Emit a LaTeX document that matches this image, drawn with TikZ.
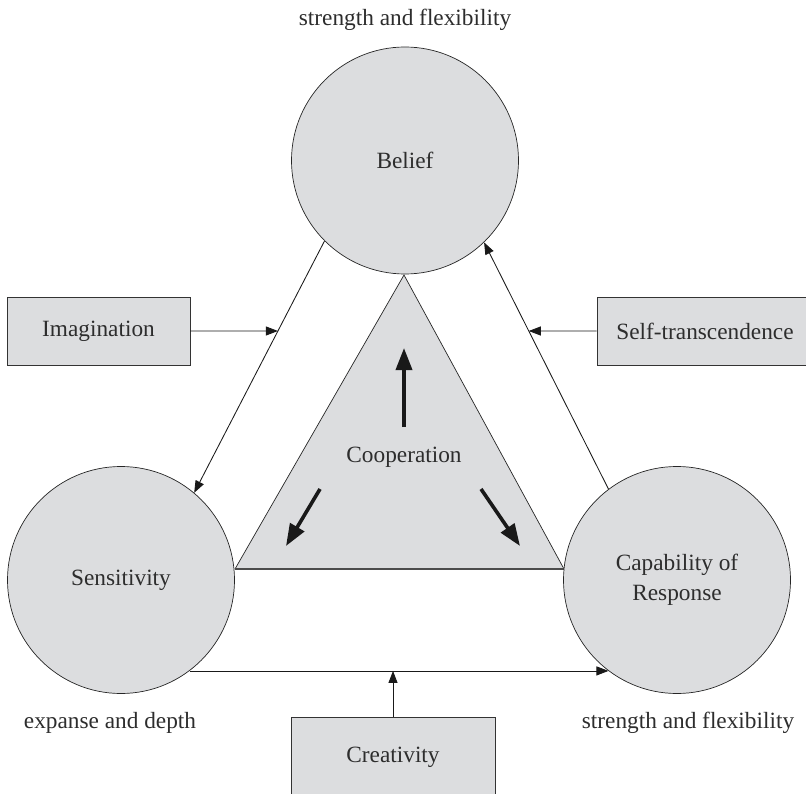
\documentclass[tikz,border=0pt]{standalone}
\usepackage{fontspec}
\setmainfont{Liberation Serif}
\usetikzlibrary{arrows.meta,intersections}
\definecolor{fillg}{RGB}{220,221,223}
\definecolor{txt}{RGB}{45,45,45}
\begin{document}
\begin{tikzpicture}[x=1pt,y=-1pt,
  every node/.style={font=\fontsize{23.3}{30}\selectfont, text=txt},
  circ/.style={circle, draw=black!85, fill=fillg, line width=0.7pt, minimum size=227pt, inner sep=0pt},
  box/.style={rectangle, draw=black!80, fill=fillg, line width=0.9pt, inner sep=0pt},
  conn/.style={draw=black!90, line width=0.85pt, -{Triangle[length=12pt,width=9pt]}},
  bigarrow/.style={line width=3.6pt, draw=black!90, -{Triangle[length=22pt,width=16pt]}}]
\useasboundingbox (0,0) rectangle (806,794);
\clip (0,0) rectangle (806,794);
% triangle
\coordinate (ta) at (404,275);
\coordinate (tl) at (235,569);
\coordinate (tr) at (564,569);
\fill[fillg] (ta)--(tl)--(tr)--cycle;
\draw[line width=0.7pt, black!85] (tl)--(ta)--(tr);
\draw[line width=1.2pt, black!70] (tl)--(tr);
% circles
\node[circ] (B) at (405,160.5) {Belief};
\node[circ] (S) at (121,580) {Sensitivity};
\node[circ, align=center] (C) at (677,580) {Capability of\\Response};
% boxes
\node[box, minimum width=183pt, minimum height=68pt] (Im) at (98.5,331) {Imagination};
\node[box, minimum width=216pt, minimum height=68pt] (St) at (705,331) {Self-transcendence};
\node[box, minimum width=204pt, minimum height=80pt] (Cr) at (393,757) {Creativity};
% labels
\node (lab1) at (405,20) {strength and flexibility};
\node (lab2) at (110,723) {expanse and depth};
\node (lab3) at (688,723) {strength and flexibility};
\node (co) at (404,457) {Cooperation};
% connectors
\path[name path=bs] (B.225) -- (S.50);
\path[name path=cb] (C.127) -- (B.314);
\path[name path=ih] (Im.east) -- ++(150,0);
\path[name path=sh] (St.west) -- ++(-150,0);
\path[name intersections={of=bs and ih, by=ia}];
\path[name intersections={of=cb and sh, by=sa}];
\draw[conn] (B.225) -- (S.50);
\draw[conn] (C.127) -- (B.314);
\draw[conn] (Im.east) -- (ia);
\draw[conn] (St.west) -- (sa);
\draw[conn] (S.-53) -- (C.233);
\draw[conn] (Cr.north) -- (Cr.north |- C.233);
% big arrows
\coordinate (u1) at (404,427);
\coordinate (u2) at (404,348);
\coordinate (d1) at (320,489);
\coordinate (d2) at (286,546);
\coordinate (e1) at (481,489);
\coordinate (e2) at (520,546);
\draw[bigarrow] (u1) -- (u2);
\draw[bigarrow] (d1) -- (d2);
\draw[bigarrow] (e1) -- (e2);
\end{tikzpicture}
\end{document}
